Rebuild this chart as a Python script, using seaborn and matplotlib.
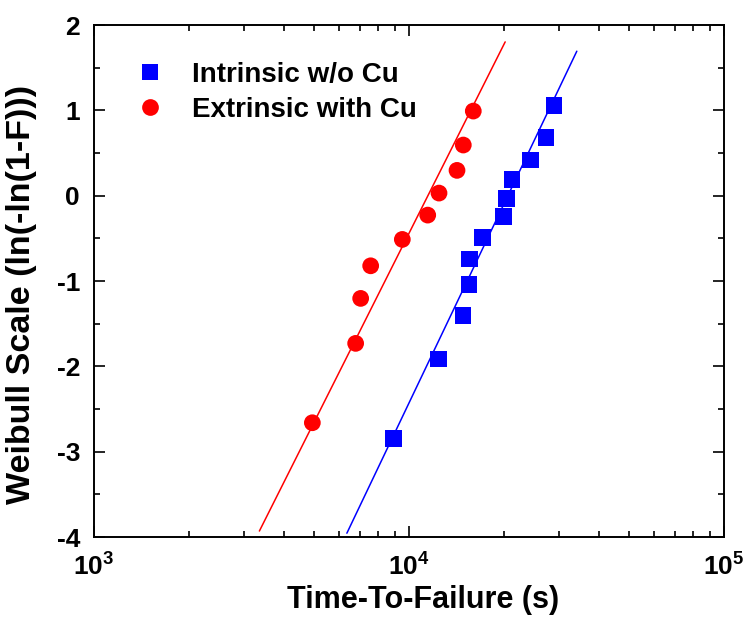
import numpy as np
import pandas as pd
import seaborn as sns
import matplotlib
matplotlib.use("Agg")
import matplotlib.pyplot as plt
from matplotlib.ticker import LogLocator, MultipleLocator, FuncFormatter, NullFormatter

# Time-to-failure data (s) and Weibull plotting positions ln(-ln(1-F))
intrinsic_ttf = [8920, 12430, 14840, 15500, 15540, 17090, 19930, 20420, 21230, 24280, 27220, 28860]
intrinsic_weibull = [-2.844, -1.914, -1.406, -1.043, -0.742, -0.493, -0.246, -0.031, 0.187, 0.418, 0.684, 1.054]
extrinsic_ttf = [4934, 6771, 7024, 7557, 9524, 11467, 12454, 14205, 14873, 16000]
extrinsic_weibull = [-2.660, -1.730, -1.203, -0.821, -0.512, -0.227, 0.031, 0.297, 0.594, 0.992]

series_names = ["Intrinsic w/o Cu", "Extrinsic with Cu"]

# Weibull fit parameters: shape beta, scale eta (s), and the time span of each fit line
fit_beta = [3.36, 3.19]
fit_eta = [20600, 11480]
fit_span = [(6350, 34100), (3350, 20200)]

colors = {"Intrinsic w/o Cu": "#0000ff", "Extrinsic with Cu": "#ff0000"}
markers = {"Intrinsic w/o Cu": "s", "Extrinsic with Cu": "o"}

points = pd.concat([
    pd.DataFrame({"ttf": intrinsic_ttf, "w": intrinsic_weibull, "group": series_names[0]}),
    pd.DataFrame({"ttf": extrinsic_ttf, "w": extrinsic_weibull, "group": series_names[1]}),
], ignore_index=True)

fit_frames = []
for name, beta, eta, (t0, t1) in zip(series_names, fit_beta, fit_eta, fit_span):
    t = np.geomspace(t0, t1, 60)
    fit_frames.append(pd.DataFrame({"ttf": t, "w": beta * (np.log(t) - np.log(eta)), "group": name}))
fits = pd.concat(fit_frames, ignore_index=True)

sns.set_theme(style="ticks")
plt.rcParams["font.family"] = ["Liberation Sans", "DejaVu Sans"]
plt.rcParams["font.weight"] = "bold"
plt.rcParams["text.color"] = "black"
plt.rcParams["axes.labelcolor"] = "black"
plt.rcParams["xtick.color"] = "black"
plt.rcParams["ytick.color"] = "black"
plt.rcParams["mathtext.fontset"] = "custom"
plt.rcParams["mathtext.rm"] = "Liberation Sans:bold"
plt.rcParams["mathtext.bf"] = "Liberation Sans:bold"
plt.rcParams["mathtext.it"] = "Liberation Sans:bold"

fig, ax = plt.subplots(figsize=(7.46, 6.26), dpi=100)
fig.subplots_adjust(left=0.126, right=0.9705, bottom=0.142, top=0.960)

sns.lineplot(data=fits, x="ttf", y="w", hue="group", palette=colors,
             linewidth=1.1, legend=False, ax=ax, estimator=None, sort=False)
sns.scatterplot(data=points, x="ttf", y="w", hue="group", style="group",
                palette=colors, markers=markers, s=145, linewidth=0, ax=ax)

ax.set_xscale("log")
ax.set_xlim(1e3, 1e5)
ax.set_ylim(-4, 2)

ax.xaxis.set_major_locator(LogLocator(base=10, numticks=10))
ax.xaxis.set_minor_locator(LogLocator(base=10, subs=np.arange(2, 10), numticks=20))
ax.xaxis.set_minor_formatter(NullFormatter())
ax.xaxis.set_major_formatter(FuncFormatter(lambda v, p: r"$\mathbf{10^{%d}}$" % round(np.log10(v))))
ax.yaxis.set_major_locator(MultipleLocator(1))
ax.yaxis.set_minor_locator(MultipleLocator(0.5))
ax.yaxis.set_major_formatter(FuncFormatter(lambda v, p: "%d" % v))

ax.tick_params(which="both", direction="in", top=True, right=True, width=1.2, colors="black")
ax.tick_params(which="major", length=8, labelsize=19)
ax.tick_params(axis="x", which="major", pad=12)
ax.tick_params(axis="y", which="major", pad=10)
ax.tick_params(which="minor", length=4)
for lab in ax.get_yticklabels():
    lab.set_fontweight("bold")
for sp in ax.spines.values():
    sp.set_linewidth(1.4)
    sp.set_color("black")

ax.set_xlabel("Time-To-Failure (s)", fontsize=22, fontweight="bold", color="black")
ax.set_ylabel("Weibull Scale (ln(-ln(1-F)))", fontsize=24.5, fontweight="bold", color="black")
ax.xaxis.set_label_coords(0.522, -0.094)
ax.yaxis.set_label_coords(-0.0905, 0.473)

handles, labels = ax.get_legend_handles_labels()
leg = ax.legend(handles, labels, loc="upper left", bbox_to_anchor=(0.0667, 0.928),
                frameon=False, handlelength=1.0, handletextpad=1.0,
                labelspacing=0.32, borderpad=0, borderaxespad=0,
                prop={"weight": "bold", "size": 20})
for txt in leg.get_texts():
    txt.set_color("black")

fig.savefig("out.png", dpi=100, facecolor="white")
